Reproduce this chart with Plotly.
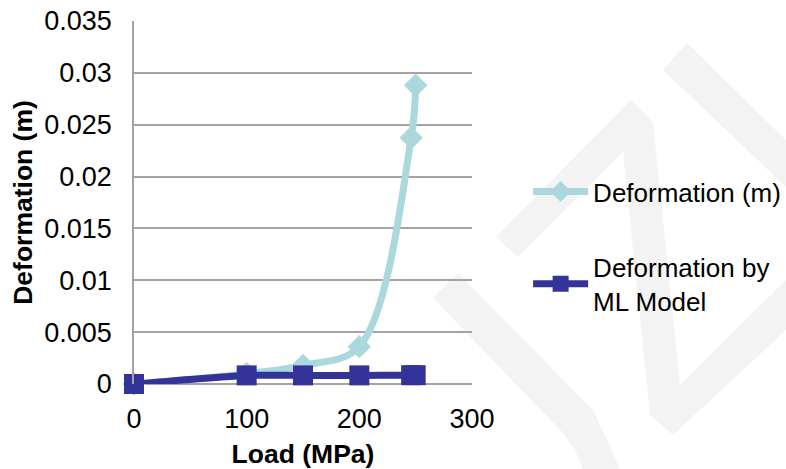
import plotly.graph_objects as go

# Load steps (MPa) and the measured / predicted deformation (m)
load_measured = [0, 100, 150, 200, 246, 250]
deformation_measured = [0.0, 0.001, 0.0018, 0.0036, 0.02375, 0.0288]

load_ml = [0, 100, 150, 200, 246, 250]
deformation_ml = [0.0, 0.00083, 0.00083, 0.00083, 0.00085, 0.00085]

x_ticks = [0, 100, 200, 300]
x_tick_labels = ["0", "100", "200", "300"]
y_ticks = [0, 0.005, 0.01, 0.015, 0.02, 0.025, 0.03, 0.035]
y_tick_labels = ["0", "0.005", "0.01", "0.015", "0.02", "0.025", "0.03", "0.035"]

FONT = "Liberation Sans, Arial, sans-serif"
CYAN = "#ABD8DC"
NAVY = "#333399"
GRID = "#A3A3A3"

# plot-area pixel geometry, used to place the background decoration
L, R, T, B = 134, 472, 21, 384
W, H = 786, 469


def px_path(points):
    """Build a closed SVG path in paper coordinates from pixel points."""
    parts = []
    for i, (px, py) in enumerate(points):
        xp = (px - L) / (R - L)
        yp = (B - py) / (B - T)
        parts.append(("M" if i == 0 else "L") + f"{xp:.4f},{yp:.4f}")
    return " ".join(parts) + " Z"


deco = [
    [(496, 237), (631, 100), (653, 122), (680, 385), (786, 280), (786, 330),
     (673, 435), (650, 415), (623, 152), (518, 257)],
    [(687, 43), (786, 140), (786, 187), (663, 70)],
    [(458, 273), (593, 410), (607, 440), (620, 469), (583, 469), (575, 450),
     (563, 433), (433, 298)],
]

fig = go.Figure()

fig.add_trace(go.Scatter(
    x=load_measured, y=deformation_measured,
    name="Deformation (m)",
    mode="lines+markers",
    line=dict(color=CYAN, width=7, shape="spline", smoothing=1.0),
    marker=dict(symbol="diamond", size=18, color=CYAN),
    cliponaxis=False,
    legend="legend",
))

fig.add_trace(go.Scatter(
    x=load_ml, y=deformation_ml,
    name="Deformation by<br>ML Model",
    mode="lines+markers",
    line=dict(color=NAVY, width=7, shape="spline", smoothing=0.6),
    marker=dict(symbol="square", size=20, color=NAVY),
    cliponaxis=False,
    legend="legend2",
))

shapes = [
    dict(type="path", path=px_path(p), xref="paper", yref="paper",
         fillcolor="#F3F3F3", line=dict(width=0), layer="below")
    for p in deco
]

legend_common = dict(
    xanchor="left", yanchor="middle",
    bgcolor="rgba(0,0,0,0)",
    font=dict(family=FONT, size=26, color="#000000"),
    itemwidth=55,
)

fig.update_layout(
    width=W, height=H,
    margin=dict(l=L, r=W - R, t=T, b=H - B, autoexpand=False),
    paper_bgcolor="white",
    plot_bgcolor="rgba(0,0,0,0)",
    font=dict(family=FONT, size=26, color="#000000"),
    shapes=shapes,
    showlegend=True,
    legend=dict(x=1.166, y=0.530, **legend_common),
    legend2=dict(x=1.166, y=0.2755, **legend_common),
    xaxis=dict(
        range=[0, 300],
        tickvals=x_ticks, ticktext=x_tick_labels,
        showgrid=False, zeroline=False, showline=False,
        ticks="", ticklabelstandoff=16, automargin=False,
        tickfont=dict(family=FONT, size=27, color="#000000"),
        title=dict(text="<b>Load (MPa)</b>", standoff=16,
                   font=dict(family=FONT, size=26.5, color="#000000")),
    ),
    yaxis=dict(
        range=[0, 0.035],
        tickvals=y_ticks, ticktext=y_tick_labels,
        showgrid=True, gridcolor=GRID, gridwidth=1.5,
        zeroline=True, zerolinecolor=GRID, zerolinewidth=1.5,
        showline=True, linecolor=GRID, linewidth=1.5,
        ticks="", ticklabelstandoff=15, automargin=False,
        tickfont=dict(family=FONT, size=27, color="#000000"),
        title=dict(text="<b>Deformation (m)</b>", standoff=4,
                   font=dict(family=FONT, size=26.5, color="#000000")),
    ),
)

fig.write_html("out.html")
